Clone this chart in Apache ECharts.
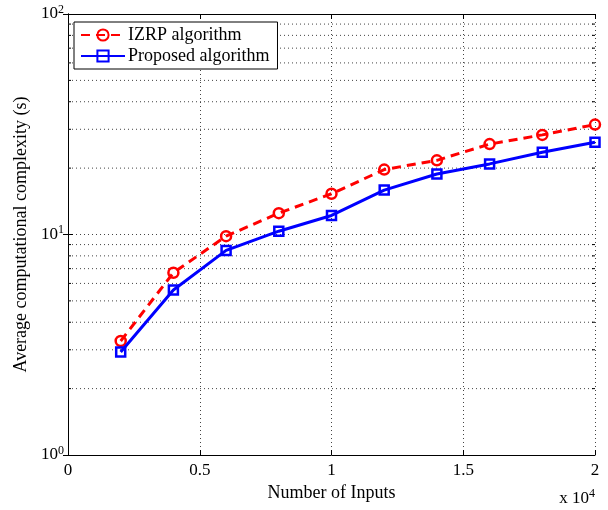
<!DOCTYPE html>
<html>
<head>
<meta charset="utf-8">
<script src="https://cdn.jsdelivr.net/npm/echarts@6/dist/echarts.min.js"></script>
<style>
    html, body { margin: 0; padding: 0; background: #fff; }
    #chart { width: 608px; height: 510px; }
</style>
</head>
<body>
<div id="chart"></div>
<script>
// number of inputs and measured time (s)
var inputs = [2000, 4000, 6000, 8000, 10000, 12000, 14000, 16000, 18000, 20000];
var izrp = [3.29, 6.71, 9.83, 12.5, 15.3, 19.7, 21.7, 25.7, 28.3, 31.5];
var proposed = [2.93, 5.60, 8.47, 10.35, 12.2, 15.9, 18.8, 20.9, 23.6, 26.2];
// log minor grid
var minorTicks = [2, 3, 4, 5, 6, 7, 8, 9, 20, 30, 40, 50, 60, 70, 80, 90];

var FONT = '"Liberation Serif", "Times New Roman", serif';

function pairs(xs, ys) {
    var out = [];
    for (var i = 0; i < xs.length; i++) {
        out.push([xs[i], ys[i]]);
    }
    return out;
}

var dotted = {color: '#444', width: 1, type: [1, 3]};
var supStyle = {fontFamily: FONT, fontSize: 12, color: '#000', verticalAlign: 'top', padding: [0, 0, 9, 0]};

var myChart = echarts.init(document.getElementById('chart'));
myChart.setOption({
    animation: false,
    backgroundColor: '#fff',
    grid: {left: 68, right: 13, top: 14, bottom: 55},
    legend: {
        orient: 'vertical',
        left: 74,
        top: 22,
        padding: [4, 8, 4, 6],
        itemGap: 3,
        itemWidth: 44,
        itemHeight: 14,
        backgroundColor: '#fff',
        borderColor: '#000',
        borderWidth: 1,
        borderRadius: 0,
        textStyle: {fontFamily: FONT, fontSize: 18, lineHeight: 18, color: '#000', padding: [0, 0, 0, -2]},
        data: ['IZRP algorithm', 'Proposed algorithm']
    },
    xAxis: [
        {
            type: 'value',
            min: 0,
            max: 20000,
            interval: 5000,
            name: 'Number of Inputs',
            nameLocation: 'middle',
            nameGap: 24,
            nameTextStyle: {fontFamily: FONT, fontSize: 18, color: '#000'},
            axisLine: {onZero: false, lineStyle: {color: '#000', width: 1}},
            axisTick: {inside: true, length: 5, lineStyle: {color: '#000'}},
            axisLabel: {
                fontFamily: FONT, fontSize: 17, color: '#000', margin: 7,
                formatter: function (v) { return String(v / 10000); }
            },
            splitLine: {show: true, lineStyle: dotted}
        },
        {
            type: 'value',
            position: 'top',
            min: 0,
            max: 20000,
            interval: 5000,
            axisLine: {onZero: false, lineStyle: {color: '#000', width: 1}},
            axisTick: {inside: true, length: 5, lineStyle: {color: '#000'}},
            axisLabel: {show: false},
            splitLine: {show: false}
        }
    ],
    yAxis: [
        {
            type: 'log',
            logBase: 10,
            min: 1,
            max: 100,
            name: 'Average computational complexity (s)',
            nameLocation: 'middle',
            nameGap: 35,
            nameTextStyle: {fontFamily: FONT, fontSize: 18, color: '#000'},
            axisLine: {lineStyle: {color: '#000', width: 1}},
            axisTick: {inside: true, length: 5, lineStyle: {color: '#000'}},
            axisLabel: {
                fontFamily: FONT, fontSize: 17, color: '#000', margin: 4,
                formatter: function (v) {
                    return '10{sup|' + Math.round(Math.log10(v)) + '}';
                },
                rich: {sup: supStyle}
            },
            splitLine: {show: true, lineStyle: dotted}
        },
        {
            type: 'log',
            logBase: 10,
            min: 1,
            max: 100,
            position: 'right',
            axisLine: {lineStyle: {color: '#000', width: 1}},
            axisTick: {inside: true, length: 5, lineStyle: {color: '#000'}},
            axisLabel: {show: false},
            splitLine: {show: false}
        }
    ],
    graphic: [{
        type: 'text',
        right: 13,
        top: 488,
        style: {
            text: 'x 10{sup|4}',
            fontFamily: FONT,
            fontSize: 17,
            fill: '#000',
            rich: {
                sup: {fontFamily: FONT, fontSize: 12, fill: '#000', verticalAlign: 'top', padding: [0, 0, 9, 0]}
            }
        }
    }],
    series: [
        {
            // minor log grid and minor ticks
            type: 'custom',
            name: 'minor',
            z: 1,
            silent: true,
            data: minorTicks.map(function (v) { return [0, v]; }),
            renderItem: function (params, api) {
                var cs = params.coordSys;
                var y = api.coord([0, api.value(1)])[1];
                var st = {stroke: '#000', lineWidth: 1};
                return {
                    type: 'group',
                    children: [
                        {type: 'line', shape: {x1: cs.x, y1: y, x2: cs.x + cs.width, y2: y},
                            style: {stroke: '#444', lineWidth: 1, lineDash: [1, 3]}},
                        {type: 'line', shape: {x1: cs.x, y1: y, x2: cs.x + 3, y2: y}, style: st},
                        {type: 'line', shape: {x1: cs.x + cs.width - 3, y1: y, x2: cs.x + cs.width, y2: y}, style: st}
                    ]
                };
            }
        },
        {
            name: 'IZRP algorithm',
            type: 'line',
            z: 3,
            data: pairs(inputs, izrp),
            symbol: 'circle',
            symbolSize: 10,
            lineStyle: {color: '#ff0000', width: 3, type: [9, 6]},
            itemStyle: {color: 'rgba(255,255,255,0)', borderColor: '#ff0000', borderWidth: 2.5}
        },
        {
            name: 'Proposed algorithm',
            type: 'line',
            z: 4,
            data: pairs(inputs, proposed),
            symbol: 'rect',
            symbolSize: 9,
            lineStyle: {color: '#0000ff', width: 3},
            itemStyle: {color: 'rgba(255,255,255,0)', borderColor: '#0000ff', borderWidth: 2.5}
        }
    ]
});
</script>
</body>
</html>
